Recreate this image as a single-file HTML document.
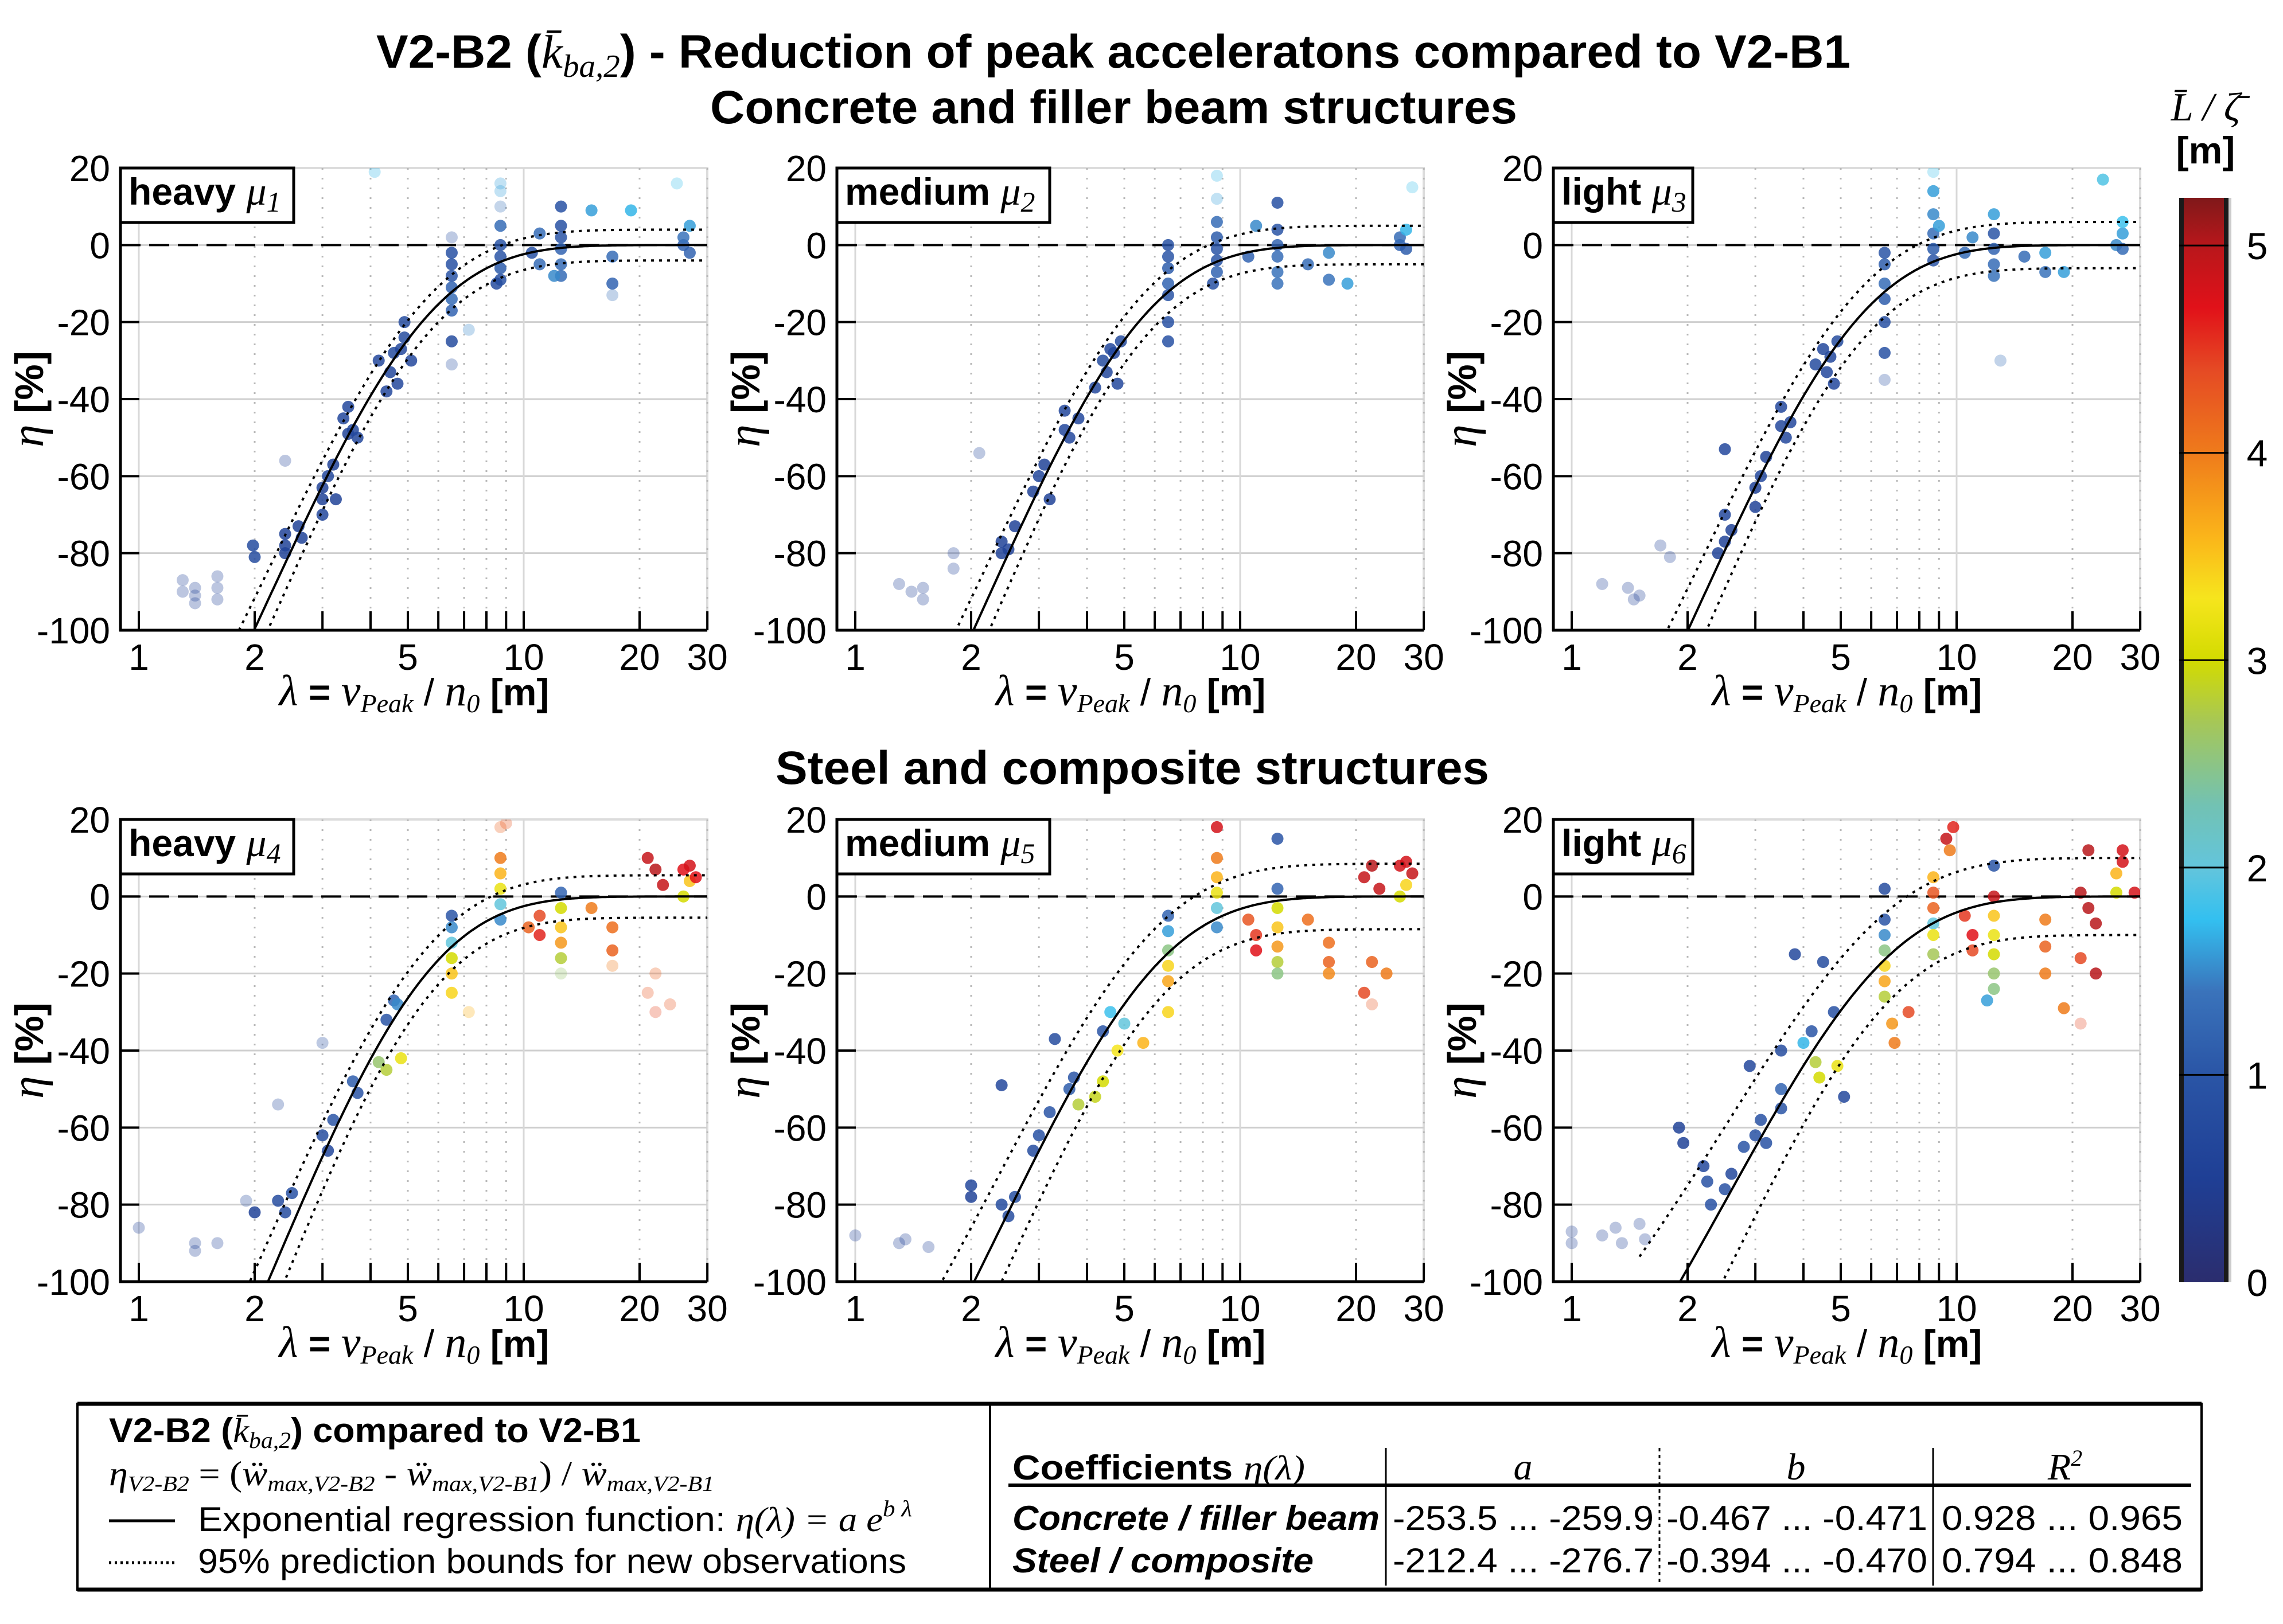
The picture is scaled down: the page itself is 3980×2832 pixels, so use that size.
<!DOCTYPE html>
<html><head><meta charset="utf-8"><title>V2-B2 reduction of peak accelerations</title>
<style>html,body{margin:0;padding:0;background:#fff}svg{display:block}</style></head>
<body>
<svg id="fig" xmlns="http://www.w3.org/2000/svg" width="3980" height="2832" viewBox="0 0 3980 2832" font-family="Liberation Sans, sans-serif">
<defs>
<linearGradient id="cmap" x1="0" y1="1" x2="0" y2="0"></linearGradient>
</defs>
<rect width="3980" height="2832" fill="#fff"/>
<text x="656" y="118" font-size="82" font-weight="bold" textLength="2570" lengthAdjust="spacingAndGlyphs">V2-B2 (<tspan font-family="Liberation Serif, serif" font-style="italic" font-weight="normal">k̄</tspan><tspan font-family="Liberation Serif, serif" font-style="italic" font-weight="normal" font-size="56" dy="16">ba,2</tspan><tspan dy="-16">) - Reduction of peak acceleratons compared to V2-B1</tspan></text>
<text x="1238" y="215" font-size="82" font-weight="bold" textLength="1407" lengthAdjust="spacingAndGlyphs">Concrete and filler beam structures</text>
<text x="1352" y="1367" font-size="82" font-weight="bold" textLength="1244" lengthAdjust="spacingAndGlyphs">Steel and composite structures</text>
<g id="panels"></g>
<g id="colorbar"></g>
<g id="legendtable"></g>
</svg>
<script>
// ---------- data ----------
const xTicks=[1,2,5,10,20,30];
const yTicks=[20,0,-20,-40,-60,-80,-100];
const panelLabels=["heavy","medium","light","heavy","medium","light"];
const panelMuIndex=["1","2","3","4","5","6"];
const coefA=[-253.5,-259.9,-256.0,-276.7,-240.0,-212.4];
const coefB=[-0.467,-0.471,-0.469,-0.470,-0.430,-0.394];
const boundConst=[4,5,6,5.5,8.5,10];
const boundRel=[0.04,0.045,0.05,0.05,0.07,0.12];
const cbTicks=[0,1,2,3,4,5];

const p1Lambda=[1.3,1.3,1.4,1.4,1.4,1.6,1.6,1.6,1.98,2.0,2.4,2.4,2.4,2.6,2.65,2.4,3.0,3.0,3.1,3.2,3.25,3.0,3.5,3.6,3.7,3.5,3.4,4.2,4.5,4.6,4.8,4.9,5.1,4.7,4.4,4.9,6.5,6.5,6.5,6.5,6.5,6.5,6.5,6.5,6.5,7.2,8.7,8.7,8.7,8.7,8.7,8.7,8.7,8.7,8.5,10.5,11,11,12.5,12.5,12.5,12.5,12.5,12.5,12,15,17,17,17,19,26,26,27,25,27,4.1];
const p1Eta=[-87,-90,-89,-91,-93,-86,-92,-89,-78,-81,-75,-78,-80,-73,-76,-56,-63,-66,-60,-57,-66,-70,-49,-48,-50,-42,-45,-30,-33,-28,-27,-20,-30,-36,-38,-24,-2,-5,-8,-11,-14,-17,-25,-31,2,-22,16,10,5,0,-3,-6,-9,14,-10,-2,-5,3,10,5,2,-1,-5,-8,-8,9,-3,-10,-13,9,0,2,5,16,-2,19];
const p1L=[0.6,0.6,0.5,0.5,0.5,0.6,0.5,0.6,0.8,0.8,0.6,0.6,0.6,0.6,0.6,0.6,0.6,0.6,0.7,0.6,0.6,0.7,0.6,0.7,0.7,0.7,0.7,0.7,0.7,0.8,0.7,0.8,0.7,0.7,0.7,0.8,0.9,0.9,1.0,1.2,1.3,1.2,0.8,0.9,0.9,1.5,1.6,1.4,1.3,1.0,1.0,1.1,0.9,1.6,0.8,0.9,1.3,1.3,0.9,0.9,1.0,1.2,1.3,1.3,1.5,1.6,1.3,1.2,1.3,1.7,1.2,1.4,1.6,1.8,1.2,1.7];

const p2Lambda=[1.3,1.4,1.5,1.5,1.8,1.8,2.1,2.4,2.4,2.5,2.6,2.9,3.0,3.1,3.2,3.5,3.6,3.5,3.8,4.4,4.6,4.7,4.5,4.9,4.8,4.2,6.5,6.5,6.5,6.5,6.5,6.5,6.5,8.7,8.7,8.7,8.7,8.7,8.7,8.7,8.5,10.5,11,12.5,12.5,12.5,12.5,12.5,12.5,15,17,17,19,26,26,27,28,27];
const p2Eta=[-88,-90,-92,-89,-80,-84,-54,-80,-77,-79,-73,-64,-60,-57,-66,-48,-50,-43,-45,-30,-27,-28,-33,-25,-36,-37,-3,-6,-10,-13,-20,-25,0,18,12,6,2,-1,-4,-7,-10,-3,5,11,4,0,-3,-7,-10,-5,-2,-9,-10,0,2,4,15,-1];
const p2L=[0.6,0.5,0.5,0.5,0.6,0.6,0.7,0.6,0.6,0.6,0.6,0.6,0.7,0.6,0.6,0.7,0.7,0.7,0.7,0.8,0.7,0.7,0.7,0.8,0.7,0.7,1.0,1.1,1.2,1.0,0.9,0.9,0.9,1.7,1.6,1.3,1.1,1.0,1.0,1.2,0.9,1.2,1.5,0.9,1.0,1.2,1.3,1.4,1.4,1.3,1.5,1.4,1.6,1.2,1.3,1.7,1.8,1.1];

const p3Lambda=[1.2,1.4,1.45,1.5,1.8,1.7,2.5,2.4,2.5,2.6,2.5,3.0,3.1,3.2,3.0,3.5,3.6,3.5,3.7,4.3,4.5,4.7,4.6,4.9,4.8,6.5,6.5,6.5,6.5,6.5,6.5,6.5,8.7,8.7,8.7,8.7,8.7,8.7,9,10.5,11,12.5,12.5,12.5,12.5,12.5,13,15,17,17,19,26,27,27,24,27];
const p3Eta=[-88,-89,-92,-91,-81,-78,-53,-80,-77,-74,-70,-63,-60,-55,-68,-47,-50,-42,-46,-31,-27,-29,-33,-25,-36,-2,-5,-10,-14,-20,-28,-35,19,14,8,3,-1,-4,5,-2,2,8,3,-1,-5,-8,-30,-3,-2,-7,-7,0,3,6,17,-1];
const p3L=[0.6,0.5,0.5,0.5,0.6,0.6,0.7,0.6,0.6,0.6,0.7,0.6,0.7,0.6,0.6,0.7,0.7,0.7,0.7,0.8,0.7,0.7,0.7,0.8,0.7,1.0,1.1,1.3,1.1,0.9,0.9,0.9,1.8,1.6,1.5,1.3,1.1,1.0,1.6,1.3,1.5,1.6,1.0,1.2,1.3,1.4,1.3,1.3,1.6,1.4,1.6,1.5,1.6,1.8,1.9,1.3];

const p4Lambda=[1.0,1.4,1.4,1.6,1.9,2.0,2.3,2.3,2.4,2.5,3.0,3.1,3.2,3.0,3.6,3.7,4.4,4.6,4.4,4.2,4.8,4.7,6.5,6.5,6.5,6.5,6.5,6.5,7.2,8.7,8.7,8.7,8.7,8.7,8.7,9,10.3,11,11,12.5,12.5,12.5,12.5,12.5,12.5,15,17,17,17,21,22,23,21,22,22,24,26,27,27,26,28];
const p4Eta=[-86,-90,-92,-90,-79,-82,-54,-79,-82,-77,-62,-66,-58,-38,-48,-51,-32,-27,-45,-43,-42,-28,-5,-8,-12,-16,-20,-25,-30,10,6,2,-2,-6,18,19,-8,-5,-10,1,-3,-8,-12,-16,-20,-3,-8,-14,-18,10,7,3,-25,-30,-20,-28,7,8,4,0,5];
const p4L=[0.6,0.5,0.5,0.6,0.7,0.6,0.7,0.8,0.8,0.9,0.8,0.7,1.0,0.8,1.1,1.0,1.0,1.2,2.8,2.6,3.2,1.5,1.0,1.5,2.0,3.0,3.5,3.4,3.6,4.0,3.6,3.2,2.0,1.5,4.2,4.3,4.2,4.4,4.6,1.2,3.0,3.5,3.8,2.8,2.6,4.0,4.1,4.2,4.0,4.9,5.0,4.9,4.3,4.4,4.2,4.3,4.7,4.8,3.5,3.0,4.7];

const p5Lambda=[1.0,1.3,1.35,1.55,2.0,2.0,2.4,2.4,2.5,2.6,2.9,3.0,3.2,3.3,3.6,3.7,3.8,4.4,4.6,4.4,4.2,4.8,5,5.6,6.5,6.5,6.5,6.5,6.5,6.5,8.7,8.7,8.7,8.7,8.7,8.7,10.5,11,11,12.5,12.5,12.5,12.5,12.5,12.5,12.5,15,17,17,17,21,22,23,21,22,22,24,26,27,27,26,28];
const p5Eta=[-88,-90,-89,-91,-75,-78,-49,-80,-83,-78,-66,-62,-56,-37,-50,-47,-54,-35,-30,-48,-52,-40,-33,-38,-5,-9,-14,-18,-22,-30,10,5,1,-3,-8,18,-6,-10,-14,2,-3,-8,-13,-17,-20,15,-6,-12,-17,-20,5,8,2,-25,-28,-17,-20,8,9,3,0,6];
const p5L=[0.6,0.5,0.5,0.6,0.7,0.6,0.7,0.8,0.8,0.9,0.8,0.9,1.0,0.8,1.1,1.0,2.8,1.0,1.8,3.0,2.9,3.3,2.0,3.6,1.2,1.6,2.5,3.4,3.7,3.4,4.0,3.6,3.2,2.0,1.5,4.8,4.3,4.5,4.7,1.2,3.0,3.5,3.8,2.8,2.5,1.0,4.1,4.1,4.2,3.9,4.9,5.0,4.9,4.4,4.3,4.2,4.0,4.8,4.8,3.4,3.0,4.9];

const p6Lambda=[1.0,1.0,1.2,1.3,1.35,1.5,1.55,1.9,1.95,2.2,2.25,2.3,2.5,2.6,2.8,3.0,3.1,3.2,2.9,3.5,3.5,3.5,4.0,4.2,4.3,4.4,4.8,4.9,5.1,3.8,4.5,6.5,6.5,6.5,6.5,6.5,6.5,6.5,6.8,6.9,7.5,8.7,8.7,8.7,8.7,8.7,8.7,9.6,9.8,9.4,10.5,11,11,12.5,12.5,12.5,12.5,12.5,12.5,12.5,12,17,17,17,19,21,22,23,21,21,23,22,26,27,27,26,29];
const p6Eta=[-87,-90,-88,-86,-90,-85,-89,-60,-64,-70,-74,-80,-76,-72,-65,-62,-58,-64,-44,-50,-55,-40,-38,-35,-43,-47,-30,-44,-52,-15,-17,2,-6,-10,-14,-18,-22,-26,-33,-38,-30,5,1,-3,-7,-10,-15,12,18,15,-5,-14,-10,8,0,-5,-10,-15,-20,-24,-27,-6,-13,-20,-29,1,-3,-7,-16,-33,-20,12,6,9,12,1,1];
const p6L=[0.6,0.6,0.5,0.5,0.5,0.6,0.5,0.6,0.6,0.7,0.9,0.9,0.9,0.7,1.0,0.9,0.9,0.9,0.7,1.2,1.0,0.8,1.7,1.0,2.8,3.0,0.9,3.2,0.7,0.7,0.8,0.8,1.0,1.5,2.5,3.4,3.7,2.8,3.8,4.0,4.4,3.6,4.3,4.2,2.0,3.2,2.7,4.0,4.6,4.9,4.5,4.4,4.7,1.0,4.9,3.5,3.2,3.0,2.6,2.5,1.6,4.0,4.2,4.0,4.0,5.0,5.0,5.0,4.4,4.4,5.0,5.0,3.6,4.8,4.8,3.0,4.8];

const panelLambda=[p1Lambda,p2Lambda,p3Lambda,p4Lambda,p5Lambda,p6Lambda];
const panelEta=[p1Eta,p2Eta,p3Eta,p4Eta,p5Eta,p6Eta];
const panelL=[p1L,p2L,p3L,p4L,p5L,p6L];

// ---------- layout ----------
const NS="http://www.w3.org/2000/svg";
const COL_X=[210,1459,2708], ROW_Y=[293,1429];
const PW=1023, PH=806, DEC=671, XOFF=32, YMAX=20, YMIN=-100;
function el(tag,attrs,parent){const e=document.createElementNS(NS,tag);for(const k in attrs)e.setAttribute(k,attrs[k]);if(parent)parent.appendChild(e);return e;}
function xs(x0,l){return x0+XOFF+Math.log10(l)*DEC;}
function ys(y0,v){return y0+(YMAX-v)*PH/(YMAX-YMIN);}
const cStops=[[0,"#2b2d6e"],[0.5,"#1f3f95"],[1,"#2a55a6"],[1.4,"#3a73bb"],[1.75,"#33c0f0"],[2,"#63c5dc"],[2.3,"#72c2b3"],[2.7,"#a6c757"],[3,"#d3db00"],[3.3,"#f6e51d"],[3.6,"#fbb41a"],[4,"#ef7b1b"],[4.4,"#e54a24"],[4.7,"#e11119"],[5,"#b8171b"],[5.23,"#80181a"]];
function cmap(v){if(v<=0)return cStops[0][1];for(let i=1;i<cStops.length;i++){if(v<=cStops[i][0]){const a=cStops[i-1],b=cStops[i];const t=(v-a[0])/(b[0]-a[0]);const ca=hex(a[1]),cb=hex(b[1]);return "rgb("+ca.map((c,j)=>Math.round(c+(cb[j]-c)*t)).join(",")+")";}}return cStops[cStops.length-1][1];}
function hex(h){return [1,3,5].map(i=>parseInt(h.substr(i,2),16));}

const panels=document.getElementById("panels");
for(let p=0;p<6;p++){
  const x0=COL_X[p%3], y0=ROW_Y[Math.floor(p/3)];
  const g=el("g",{},panels);
  
  
  const cid="clip"+p;
  const cp=el("clipPath",{id:cid},g); el("rect",{x:x0,y:y0,width:PW,height:PH},cp);
  el("rect",{x:x0,y:y0,width:PW,height:PH,fill:"none",stroke:"#dcdcdc","stroke-width":4},g);
  yTicks.forEach(t=>{if(t>YMIN&&t<YMAX){const y=ys(y0,t);const ln=el("line",{x1:x0,x2:x0+PW,y1:y,y2:y,stroke:"#cfcfcf","stroke-width":3},g);}});
  for(let d=1;d<=30;d+=(d<10?1:10)){const x=xs(x0,d);const solid=(d===1||d===10);el("line",{x1:x,x2:x,y1:y0,y2:y0+PH,stroke:solid?"#d8d8d8":"#b8b8b8","stroke-width":3,"stroke-dasharray":solid?"none":"3 14"},g);}
  for(let d=1;d<=30;d+=(d<10?1:10)){const x=xs(x0,d);el("line",{x1:x,x2:x,y1:y0+PH,y2:y0+PH-33,stroke:"#000","stroke-width":4},g);}
  yTicks.forEach(t=>{const y=ys(y0,t);el("line",{x1:x0,x2:x0+33,y1:y,y2:y,stroke:"#000","stroke-width":4},g);});
  const z=el("line",{x1:x0,x2:x0+PW,y1:ys(y0,0),y2:ys(y0,0),stroke:"#000","stroke-width":4,"stroke-dasharray":"35 15"},g);
  
  
  const pg=el("g",{"clip-path":"url(#"+cid+")"},g);
  const A=coefA[p],B=coefB[p];
  const f=l=>A*Math.exp(B*l);
  const lam=panelLambda[p],eta=panelEta[p],Lv=panelL[p];
  for(let i=0;i<lam.length;i++){
    const dev=Math.abs(eta[i]-f(lam[i]));
    const bw=boundConst[p]+boundRel[p]*Math.abs(f(lam[i]));
    const op=(dev>bw*3||lam[i]<1.9)?0.3:0.85;
    const c=el("circle",{cx:xs(x0,lam[i]),cy:ys(y0,eta[i]),r:10.5,fill:cmap(Lv[i]),"fill-opacity":op},pg);
    
    
  }
  let dm="",du="",dl="";
  for(let k=0;k<=300;k++){const l=1.5*Math.pow(30/1.5,k/300);const v=f(l);const w=boundConst[p]+boundRel[p]*Math.abs(v);const X=xs(x0,l).toFixed(1);
    dm+=(k?"L":"M")+X+","+ys(y0,v).toFixed(1);du+=(k?"L":"M")+X+","+ys(y0,v+w).toFixed(1);dl+=(k?"L":"M")+X+","+ys(y0,v-w).toFixed(1);}
  const cg=el("g",{"clip-path":"url(#"+cid+")",fill:"none",stroke:"#000"},g);
  const rm=el("path",{d:dm,"stroke-width":4},cg);
  
  
  const ru=el("path",{d:du,"stroke-width":4,"stroke-dasharray":"5 9"},cg);
  
  
  const rl=el("path",{d:dl,"stroke-width":4,"stroke-dasharray":"5 9"},cg);
  
  
  el("line",{x1:x0,x2:x0,y1:y0,y2:y0+PH+2,stroke:"#000","stroke-width":5},g);
  el("line",{x1:x0-2,x2:x0+PW,y1:y0+PH,y2:y0+PH,stroke:"#000","stroke-width":5},g);
  yTicks.forEach(t=>{const tx=el("text",{x:x0-18,y:ys(y0,t)+23,"font-size":64,"text-anchor":"end"},g);tx.textContent=String(t);
    
    });
  xTicks.forEach(t=>{const tx=el("text",{x:xs(x0,t),y:y0+PH+69,"font-size":64,"text-anchor":"middle"},g);tx.textContent=String(t);
    
    });
  const bw=(p%3===1)?371:(p%3===2?243:302);
  const lb=el("rect",{x:x0,y:y0,width:bw,height:95,fill:"#fff",stroke:"#000","stroke-width":5},g);
  
  
  const lt=el("text",{x:x0+14,y:y0+64,"font-size":66,"font-weight":"bold"},g);
  
  
  lt.textContent=panelLabels[p]+" ";
  const mu=el("tspan",{"font-family":"Liberation Serif, serif","font-style":"italic","font-weight":"normal","font-size":70},lt);mu.textContent="μ";
  const sub=el("tspan",{"font-family":"Liberation Serif, serif","font-style":"italic","font-weight":"normal","font-size":50,dy:12},lt);sub.textContent=panelMuIndex[p];
  const yl=el("text",{transform:"translate("+(x0-135)+","+(y0+403)+") rotate(-90)","text-anchor":"middle","font-size":70,"font-weight":"bold"},g);
  
  
  yl.innerHTML='<tspan font-family="Liberation Serif, serif" font-style="italic" font-weight="normal" font-size="80">η</tspan> [%]';
  const xl=el("text",{x:x0+512,y:y0+PH+131,"text-anchor":"middle","font-size":66,"font-weight":"bold"},g);
  
  
  xl.innerHTML='<tspan font-family="Liberation Serif, serif" font-style="italic" font-weight="normal" font-size="76">λ</tspan> = <tspan font-family="Liberation Serif, serif" font-style="italic" font-weight="normal" font-size="76">v</tspan><tspan font-family="Liberation Serif, serif" font-style="italic" font-weight="normal" font-size="46" dy="12">Peak</tspan><tspan dy="-12" font-weight="normal"> / </tspan><tspan font-family="Liberation Serif, serif" font-style="italic" font-weight="normal" font-size="76">n</tspan><tspan font-family="Liberation Serif, serif" font-style="italic" font-weight="normal" font-size="46" dy="12">0</tspan><tspan dy="-12"> [m]</tspan>';
}

// ---------- colorbar ----------
const grad=document.getElementById("cmap");
const CBMAX=5.23;
cStops.forEach(s=>{el("stop",{offset:(s[0]/CBMAX).toFixed(4),"stop-color":s[1]},grad);});
const cb=document.getElementById("colorbar");
const CBX=3799,CBY=345,CBW=86,CBB=2236;
const cbr=el("rect",{x:CBX+5,y:CBY,width:CBW-10,height:CBB-CBY,fill:"url(#cmap)"},cb);


el("rect",{x:CBX,y:CBY,width:8,height:CBB-CBY,fill:"#1a1a1a"},cb);
el("rect",{x:CBX+CBW-8,y:CBY,width:8,height:CBB-CBY,fill:"#1a1a1a"},cb);
el("rect",{x:CBX+CBW,y:CBY,width:5,height:CBB-CBY,fill:"#ccc"},cb);
cbTicks.forEach(t=>{const y=CBB-(CBB-CBY)*t/CBMAX;
  if(t>0)el("line",{x1:CBX,x2:CBX+CBW,y1:y,y2:y,stroke:"#000","stroke-width":3},cb);
  const tx=el("text",{x:3935,y:y+24,"font-size":66,"text-anchor":"middle"},cb);tx.textContent=String(t);
  
  });
const cbt=el("text",{x:3845,y:210,"font-size":70,"text-anchor":"middle","font-family":"Liberation Serif, serif","font-style":"italic"},cb);


cbt.textContent="L̄ / ζ̄";
const cbu=el("text",{x:3845,y:285,"font-size":66,"text-anchor":"middle","font-weight":"bold"},cb);


cbu.textContent="[m]";

// ---------- legend / coefficient table ----------
const lt=document.getElementById("legendtable");
el("rect",{x:135,y:2448,width:3703,height:324,fill:"none",stroke:"#000","stroke-width":4},lt);
el("line",{x1:135,x2:3838,y1:2448,y2:2448,stroke:"#000","stroke-width":7},lt);
el("line",{x1:135,x2:3838,y1:2772,y2:2772,stroke:"#000","stroke-width":7},lt);
el("line",{x1:1726,x2:1726,y1:2448,y2:2772,stroke:"#000","stroke-width":4},lt);
function T(x,y,html,attrs,name){const t=el("text",Object.assign({x:x,y:y,"font-size":60},attrs||{}),lt);t.innerHTML=html;return t;}
const SI='font-family="Liberation Serif, serif" font-style="italic" font-weight="normal"';
T(190,2515,'V2-B2 (<tspan '+SI+'>k̄</tspan><tspan '+SI+' font-size="40" dy="10">ba,2</tspan><tspan dy="-10">) compared to V2-B1</tspan>',{"font-weight":"bold",textLength:927,lengthAdjust:"spacingAndGlyphs"},'legend-heading');
T(190,2590,'<tspan '+SI+'>η</tspan><tspan '+SI+' font-size="38" dy="10">V2-B2</tspan><tspan dy="-10"> = (</tspan><tspan '+SI+'>ẅ</tspan><tspan '+SI+' font-size="38" dy="10">max,V2-B2</tspan><tspan dy="-10"> - </tspan><tspan '+SI+'>ẅ</tspan><tspan '+SI+' font-size="38" dy="10">max,V2-B1</tspan><tspan dy="-10">) / </tspan><tspan '+SI+'>ẅ</tspan><tspan '+SI+' font-size="38" dy="10">max,V2-B1</tspan>',{"font-family":"Liberation Serif, serif",textLength:1055,lengthAdjust:"spacingAndGlyphs"},'eta-definition');
el("line",{x1:190,x2:305,y1:2652,y2:2652,stroke:"#000","stroke-width":5},lt);
T(345,2670,'Exponential regression function: <tspan '+SI+'>η(λ) = a e</tspan><tspan '+SI+' font-size="40" dy="-26">b λ</tspan>',{textLength:1245,lengthAdjust:"spacingAndGlyphs"},'legend-regression');
el("line",{x1:190,x2:305,y1:2725,y2:2725,stroke:"#000","stroke-width":5,"stroke-dasharray":"4 6"},lt);
T(345,2743,'95% prediction bounds for new observations',{textLength:1235,lengthAdjust:"spacingAndGlyphs"},'legend-prediction-bounds');
T(1765,2580,'Coefficients <tspan '+SI+'>η(λ)</tspan>',{"font-weight":"bold",textLength:510,lengthAdjust:"spacingAndGlyphs"},'table-header-label');
T(2655,2580,'a',{"text-anchor":"middle","font-family":"Liberation Serif, serif","font-style":"italic","font-size":66},'table-header-a');
T(3131,2580,'b',{"text-anchor":"middle","font-family":"Liberation Serif, serif","font-style":"italic","font-size":66},'table-header-b');
T(3600,2580,'R<tspan font-size="40" dy="-24">2</tspan>',{"text-anchor":"middle","font-family":"Liberation Serif, serif","font-style":"italic","font-size":66},'table-header-r2');
el("line",{x1:1758,x2:3820,y1:2590,y2:2590,stroke:"#000","stroke-width":6},lt);
el("line",{x1:2416,x2:2416,y1:2525,y2:2765,stroke:"#000","stroke-width":3},lt);
el("line",{x1:2893,x2:2893,y1:2525,y2:2765,stroke:"#000","stroke-width":3,"stroke-dasharray":"6 6"},lt);
el("line",{x1:3370,x2:3370,y1:2525,y2:2765,stroke:"#000","stroke-width":3},lt);
T(1765,2668,'Concrete / filler beam',{"font-weight":"bold","font-style":"italic",textLength:640,lengthAdjust:"spacingAndGlyphs"},'row-concrete-label');
T(2428,2668,'-253.5 ... -259.9',{textLength:455,lengthAdjust:"spacingAndGlyphs"},'concrete-a');
T(2905,2668,'-0.467 ... -0.471',{textLength:455,lengthAdjust:"spacingAndGlyphs"},'concrete-b');
T(3385,2668,'0.928 ... 0.965',{textLength:420,lengthAdjust:"spacingAndGlyphs"},'concrete-r2');
T(1765,2742,'Steel / composite',{"font-weight":"bold","font-style":"italic",textLength:525,lengthAdjust:"spacingAndGlyphs"},'row-steel-label');
T(2428,2742,'-212.4 ... -276.7',{textLength:455,lengthAdjust:"spacingAndGlyphs"},'steel-a');
T(2905,2742,'-0.394 ... -0.470',{textLength:455,lengthAdjust:"spacingAndGlyphs"},'steel-b');
T(3385,2742,'0.794 ... 0.848',{textLength:420,lengthAdjust:"spacingAndGlyphs"},'steel-r2');
</script>
</body></html>
